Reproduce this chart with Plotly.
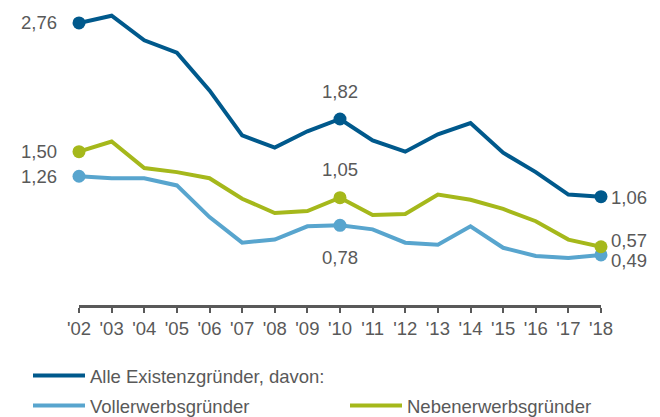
import plotly.graph_objects as go

years = list(range(2002, 2019))
tick_labels = ["'02", "'03", "'04", "'05", "'06", "'07", "'08", "'09", "'10",
               "'11", "'12", "'13", "'14", "'15", "'16", "'17", "'18"]

alle = [2.76, 2.83, 2.59, 2.47, 2.10, 1.66, 1.54, 1.70, 1.82,
        1.61, 1.50, 1.67, 1.78, 1.49, 1.30, 1.08, 1.06]
voll = [1.26, 1.24, 1.24, 1.17, 0.86, 0.61, 0.64, 0.77, 0.78,
        0.74, 0.61, 0.59, 0.77, 0.56, 0.48, 0.46, 0.49]
neben = [1.50, 1.60, 1.34, 1.30, 1.24, 1.04, 0.90, 0.92, 1.05,
         0.88, 0.89, 1.08, 1.03, 0.94, 0.82, 0.64, 0.57]

names = ["Alle Existenzgründer, davon:", "Vollerwerbsgründer", "Nebenerwerbsgründer"]
colors = ["#00598C", "#58A5CE", "#A5B81B"]
marked = [0, 8, 16]

def fmt(v):
    return f"{v:.2f}".replace(".", ",")

TXT = "#595959"
FONT = "Liberation Sans, Arial, sans-serif"
FS = 18.5

fig = go.Figure()
series = [alle, voll, neben]
legends = ["legend", "legend2", "legend3"]
for s, n, c, lg in zip(series, names, colors, legends):
    fig.add_trace(go.Scatter(x=years, y=s, mode="lines", name=n,
                             line=dict(color=c, width=4), legend=lg,
                             cliponaxis=False))
for s, c in zip(series, colors):
    fig.add_trace(go.Scatter(x=[years[i] for i in marked], y=[s[i] for i in marked],
                             mode="markers", marker=dict(color=c, size=13),
                             showlegend=False, cliponaxis=False))

ann_font = dict(family=FONT, size=FS, color=TXT)
def ann(x, y, text, xanchor, yanchor, xshift=0, yshift=0):
    fig.add_annotation(x=x, y=y, text=text, showarrow=False, xanchor=xanchor,
                       yanchor=yanchor, xshift=xshift, yshift=yshift, font=ann_font)

# left labels
ann(years[0], alle[0], fmt(alle[0]), "right", "middle", xshift=-20)
ann(years[0], neben[0], fmt(neben[0]), "right", "middle", xshift=-20)
ann(years[0], voll[0], fmt(voll[0]), "right", "middle", xshift=-20)
# middle labels
ann(years[8], alle[8], fmt(alle[8]), "center", "middle", yshift=28)
ann(years[8], neben[8], fmt(neben[8]), "center", "middle", yshift=28)
ann(years[8], voll[8], fmt(voll[8]), "center", "middle", yshift=-32)
# right labels
ann(years[16], alle[16], fmt(alle[16]), "left", "middle", xshift=8, yshift=-1)
ann(years[16], neben[16], fmt(neben[16]), "left", "middle", xshift=8, yshift=6)
ann(years[16], voll[16], fmt(voll[16]), "left", "middle", xshift=8, yshift=-6)

def leg(x, y):
    return dict(orientation="h", xref="container", yref="container",
                x=x, y=y, xanchor="left", yanchor="middle",
                font=dict(family=FONT, size=FS, color=TXT), itemwidth=52,
                bgcolor="rgba(0,0,0,0)")

fig.update_layout(
    width=660, height=417,
    margin=dict(l=79, r=59, t=5, b=112, autoexpand=False),
    paper_bgcolor="white", plot_bgcolor="white",
    font=dict(family=FONT, size=FS, color=TXT),
    xaxis=dict(range=[2002, 2018], tickvals=years, ticktext=tick_labels,
               showgrid=False, zeroline=False, showline=True, linecolor=TXT,
               linewidth=2.5, ticks="outside", ticklen=5, tickwidth=2,
               tickcolor=TXT, tickfont=dict(family=FONT, size=FS, color=TXT)),
    yaxis=dict(range=[0, 300 / 102.2], visible=False, showgrid=False, zeroline=False),
    legend=leg(28 / 660, 1 - 376 / 417),
    legend2=leg(28 / 660, 1 - 406 / 417),
    legend3=leg(345 / 660, 1 - 406 / 417),
    hovermode=False,
)

fig.write_html("out.html", config={"displayModeBar": False},
               post_script="document.body.style.margin='0px';document.body.style.overflow='hidden';")
